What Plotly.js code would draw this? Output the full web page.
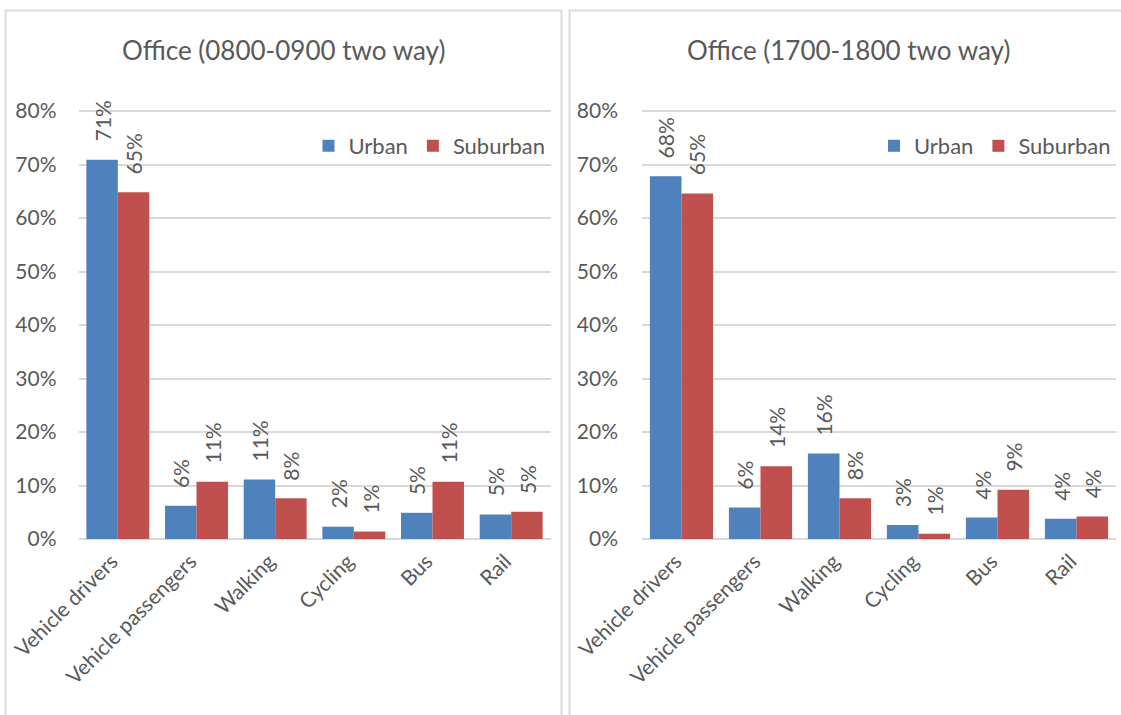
<!DOCTYPE html>
<html>
<head>
<meta charset="utf-8">
<script src="https://cdn.plot.ly/plotly-3.0.1.min.js"></script>
<style>html,body{margin:0;padding:0;background:#fff;}#chart{width:1121px;height:715px;}</style>
</head>
<body>
<div id="chart"></div>
<script>
// ---- data ----
const categories = ['Vehicle drivers', 'Vehicle passengers', 'Walking', 'Cycling', 'Bus', 'Rail'];
const seriesNames = ['Urban', 'Suburban'];
const amTitle = 'Office (0800-0900 two way)';
const pmTitle = 'Office (1700-1800 two way)';
const amUrban = [0.709, 0.062, 0.111, 0.023, 0.049, 0.046];
const amSuburban = [0.648, 0.107, 0.076, 0.014, 0.107, 0.051];
const pmUrban = [0.678, 0.059, 0.160, 0.026, 0.040, 0.038];
const pmSuburban = [0.646, 0.136, 0.076, 0.010, 0.092, 0.042];
const yTickVals = [0, 0.1, 0.2, 0.3, 0.4, 0.5, 0.6, 0.7, 0.8];

// ---- style ----
const W = 1121, H = 715;
const FONT = 'Lato, "Open Sans", sans-serif';
const GREY = '#595959';
const GRID = '#D9D9D9';
const colors = ['#4F81BD', '#C0504D'];
const px = v => v / W;
const py = v => 1 - v / H;

const panels = [
  {title: amTitle, series: [amUrban, amSuburban], xa: 'x', ya: 'y', leg: 'legend',
   plot: [78.5, 550.5], box: [5.5, 561.5], titleX: 283.5, standoff: 21},
  {title: pmTitle, series: [pmUrban, pmSuburban], xa: 'x2', ya: 'y2', leg: 'legend2',
   plot: [642, 1116], box: [569.5, 1127], titleX: 848, standoff: 23}
];

const traces = [];
const annotations = [];
const shapes = [];
const yBottom = 540.07, yTop = 109.93;

panels.forEach((p, pi) => {
  p.series.forEach((vals, si) => {
    traces.push({
      type: 'bar', x: categories, y: vals, name: seriesNames[si],
      xaxis: p.xa, yaxis: p.ya, legend: p.leg,
      marker: {color: colors[si], line: {width: 0}},
      hoverinfo: 'none'
    });
    vals.forEach((v, i) => {
      annotations.push({
        xref: p.xa, yref: p.ya, x: i + (si === 0 ? -0.2 : 0.2), y: v,
        text: Math.round(v * 100) + '%', textangle: -90,
        xanchor: 'center', yanchor: 'bottom', yshift: 16, showarrow: false,
        font: {family: FONT, size: 21, color: GREY}
      });
    });
  });
  annotations.push({
    xref: 'paper', yref: 'paper', x: px(p.titleX), y: py(50), xanchor: 'center', yanchor: 'middle',
    text: p.title, showarrow: false, font: {family: FONT, size: 26, color: GREY}
  });
  shapes.push({
    type: 'rect', xref: 'paper', yref: 'paper', x0: px(p.box[0]), x1: px(p.box[1]), y0: -0.1, y1: py(10.5),
    line: {color: '#DCDCDC', width: 2}, fillcolor: 'rgba(0,0,0,0)', layer: 'below'
  });
});

function xAxis(p, anchor) {
  return {
    domain: [px(p.plot[0]), px(p.plot[1])], anchor: anchor, type: 'category',
    tickangle: -45, tickfont: {family: FONT, size: 21, color: GREY},
    showgrid: false, showline: false, zeroline: false, ticks: '', ticklabelstandoff: 4,
    ticklabelshift: -6, fixedrange: true
  };
}
function yAxis(p, anchor) {
  return {
    domain: [py(yBottom), py(yTop)], anchor: anchor, range: [-0.002, 0.802],
    tickvals: yTickVals, tickformat: '.0%', tickfont: {family: FONT, size: 21, color: GREY},
    showgrid: true, gridcolor: GRID, gridwidth: 2,
    zeroline: true, zerolinecolor: GRID, zerolinewidth: 2,
    showline: false, ticks: '', ticklabelstandoff: p.standoff, fixedrange: true
  };
}
function legendFor(p) {
  return {
    orientation: 'h', x: px(p.plot[1]), xanchor: 'right', y: py(146), yanchor: 'middle',
    font: {family: FONT, size: 22, color: GREY}, bgcolor: 'rgba(0,0,0,0)', itemwidth: 30,
    itemclick: false, itemdoubleclick: false
  };
}

const layout = {
  width: W, height: H, margin: {l: 0, r: 0, t: 0, b: 0},
  paper_bgcolor: '#ffffff', plot_bgcolor: '#ffffff',
  bargap: 0.2, bargroupgap: 0, barmode: 'group',
  showlegend: true,
  xaxis: xAxis(panels[0], 'y'), yaxis: yAxis(panels[0], 'x'),
  xaxis2: xAxis(panels[1], 'y2'), yaxis2: yAxis(panels[1], 'x2'),
  legend: legendFor(panels[0]), legend2: legendFor(panels[1]),
  annotations: annotations, shapes: shapes,
  font: {family: FONT, color: GREY}
};

Plotly.newPlot('chart', traces, layout, {displayModeBar: false, staticPlot: true});
</script>
</body>
</html>
